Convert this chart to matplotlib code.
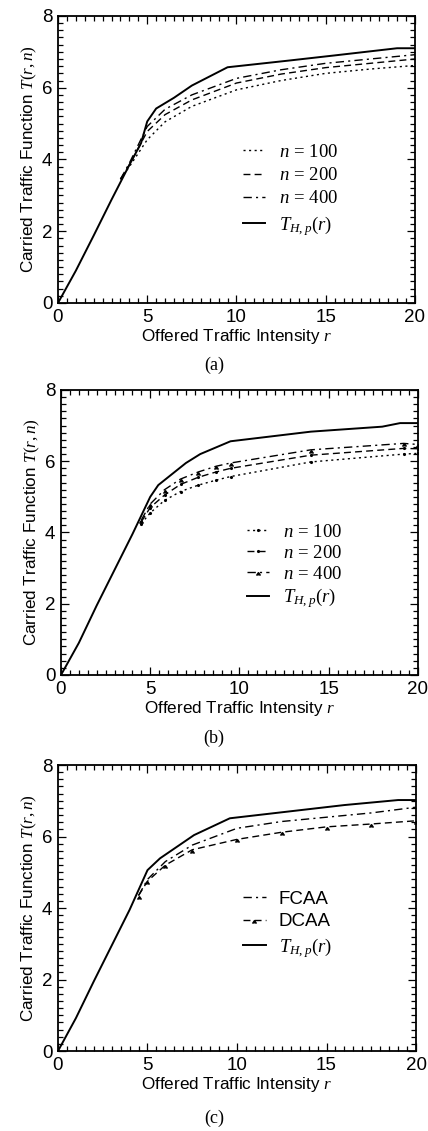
import matplotlib
matplotlib.use("Agg")
import matplotlib.pyplot as plt
from matplotlib.ticker import MultipleLocator

plt.rcParams['font.family'] = ['Liberation Sans', 'DejaVu Sans']
plt.rcParams['mathtext.fontset'] = 'custom'
plt.rcParams['mathtext.it'] = 'Liberation Serif:italic'
plt.rcParams['mathtext.rm'] = 'Liberation Serif'
plt.rcParams['mathtext.cal'] = 'Liberation Serif:italic'

# ---- panel (a) ----
r_th_a = [0, 1, 2, 3, 4, 4.65, 5.0, 5.5, 6.5, 7.5, 9.5, 13, 15.5, 19, 20]
th_a = [0, 0.9, 1.88, 2.88, 3.85, 4.45, 5.06, 5.42, 5.72, 6.06, 6.57, 6.76, 6.9, 7.1, 7.1]
r_a = [3.5, 4, 5, 6, 7.5, 10, 12.5, 15, 17.5, 20]
n100_a = [3.45, 3.8, 4.55, 5.05, 5.48, 5.94, 6.2, 6.4, 6.52, 6.62]
n200_a = [3.45, 3.85, 4.78, 5.25, 5.66, 6.13, 6.38, 6.56, 6.68, 6.8]
n400_a = [3.45, 3.9, 4.92, 5.4, 5.8, 6.26, 6.5, 6.68, 6.8, 6.92]

# ---- panel (b) ----
r_th_b = [0, 1, 2, 3, 4, 5, 5.45, 7, 7.8, 9.5, 14, 18, 19, 20]
th_b = [0, 0.9, 1.95, 2.95, 3.95, 5.0, 5.33, 5.95, 6.2, 6.56, 6.83, 6.97, 7.07, 7.07]
r_b = [4.5, 5.0, 5.8, 6.7, 7.7, 8.7, 9.5, 14, 19.2, 20]
n100_b = [4.25, 4.55, 4.9, 5.15, 5.33, 5.47, 5.57, 5.98, 6.2, 6.22]
n200_b = [4.3, 4.7, 5.05, 5.35, 5.55, 5.7, 5.8, 6.17, 6.36, 6.35]
n400_b = [4.35, 4.8, 5.2, 5.5, 5.7, 5.86, 5.95, 6.32, 6.5, 6.47]

# ---- panel (c) ----
r_th_c = [0, 1, 2, 3, 4, 5, 5.7, 7.6, 9.6, 16, 19, 20]
th_c = [0, 0.92, 1.95, 2.95, 3.95, 5.06, 5.39, 6.04, 6.51, 6.88, 7.02, 7.02]
r_c = [4.5, 5, 6, 7.5, 10, 12.5, 15, 17.5, 20]
fcaa_c = [4.35, 4.8, 5.3, 5.76, 6.23, 6.42, 6.54, 6.66, 6.82]
dcaa_c = [4.35, 4.75, 5.2, 5.63, 5.92, 6.12, 6.27, 6.35, 6.44]

th_label = r'$T_{H,p}(r)$'
fs = 12.3

fig = plt.figure(figsize=(4.28, 11.31), dpi=100)


def style_axes(ax):
    ax.set_xlim(0, 20)
    ax.set_ylim(0, 8)
    ax.xaxis.set_major_locator(MultipleLocator(5))
    ax.xaxis.set_minor_locator(MultipleLocator(0.5))
    ax.yaxis.set_major_locator(MultipleLocator(2))
    ax.yaxis.set_minor_locator(MultipleLocator(0.2))
    ax.tick_params(which='both', direction='in', top=True, right=True,
                   labelsize=13.5, width=0.9)
    ax.tick_params(which='major', length=6, pad=4)
    ax.tick_params(which='minor', length=3.5)
    for s in ax.spines.values():
        s.set_linewidth(1.3)
    ax.set_xlabel(r'Offered Traffic Intensity $r$', fontsize=fs, labelpad=1)
    ax.set_ylabel(r'Carried Traffic Function $T(r,n)$', fontsize=fs, labelpad=2)


leg_kw = dict(frameon=False, handlelength=1.2, handletextpad=0.7,
              borderpad=0, borderaxespad=0, prop={'size': 13.5})

# (a)
ax1 = fig.add_axes([0.1355, 0.7321, 0.834, 0.2538])
ax1.plot(r_a, n100_a, color='k', lw=1.0, ls=(0, (1.5, 2.5)), label=r'$n\,=\,100$')
ax1.plot(r_a, n200_a, color='k', lw=1.0, ls=(0, (5, 3)), label=r'$n\,=\,200$')
ax1.plot(r_a, n400_a, color='k', lw=1.0, ls=(0, (6, 3, 1.5, 3)), label=r'$n\,=\,400$')
ax1.plot(r_th_a, th_a, color='k', lw=1.4, label=th_label)
style_axes(ax1)
ax1.legend(loc='upper left', bbox_to_anchor=(0.518, 0.555), labelspacing=0.33, **leg_kw)
fig.text(0.5, 1 - 365 / 1131, '(a)', ha='center', va='center',
         family='Liberation Serif', fontsize=13)

# (b)
ax2 = fig.add_axes([0.1425, 0.4032, 0.834, 0.252])
ax2.plot(r_b, n100_b, color='k', lw=1.0, ls=(0, (1.5, 2.5)), marker='.', ms=2.5,
         label=r'$n\,=\,100$')
ax2.plot(r_b, n200_b, color='k', lw=1.0, ls=(0, (5, 3)), marker='.', ms=2.5,
         label=r'$n\,=\,200$')
ax2.plot(r_b, n400_b, color='k', lw=1.0, ls=(0, (6, 3, 1.5, 3)), marker=6, ms=2.5,
         label=r'$n\,=\,400$')
ax2.plot(r_th_b, th_b, color='k', lw=1.4, label=th_label)
style_axes(ax2)
ax2.legend(loc='upper left', bbox_to_anchor=(0.521, 0.53), labelspacing=0.2, **leg_kw)
fig.text(0.5, 1 - 738 / 1131, '(b)', ha='center', va='center',
         family='Liberation Serif', fontsize=13)

# (c)
ax3 = fig.add_axes([0.1355, 0.0707, 0.8365, 0.2529])
ax3.plot(r_c, fcaa_c, color='k', lw=1.0, ls=(0, (6, 3, 1.5, 3)), label='FCAA')
ax3.plot(r_c, dcaa_c, color='k', lw=1.0, ls=(0, (5, 3)), marker=6, ms=2.5, label='DCAA')
ax3.plot(r_th_c, th_c, color='k', lw=1.4, label=th_label)
style_axes(ax3)
ax3.legend(loc='upper left', bbox_to_anchor=(0.517, 0.56), labelspacing=0.28, **leg_kw)
fig.text(0.5, 1 - 1118 / 1131, '(c)', ha='center', va='center',
         family='Liberation Serif', fontsize=13)

fig.savefig('out.png', dpi=100)
